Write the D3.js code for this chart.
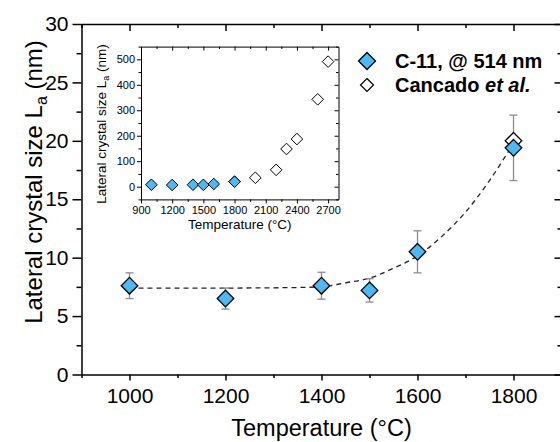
<!DOCTYPE html>
<html>
<head>
<meta charset="utf-8">
<script src="https://cdn.jsdelivr.net/npm/d3@7"></script>
<style>
  body { margin: 0; background: #fff; }
  svg { display: block; font-family: Arial, "Liberation Sans", sans-serif; }
</style>
</head>
<body>
<script>
// C-11 sample, measured at 514 nm
const tempC11 = [1000, 1200, 1400, 1500, 1600, 1800];
const laC11 = [7.6, 6.5, 7.6, 7.2, 10.5, 19.4];
const errC11 = [1.1, 0.9, 1.15, 1.0, 1.8, 2.8];

// Cancado et al. reference values
const tempCancado = [1800, 2000, 2200, 2300, 2400, 2600, 2700];
const laCancado = [20.0, 35, 66, 148, 187, 343, 491];

// dashed guide curve
const tempFit = [1000, 1100, 1200, 1300, 1400, 1450, 1500, 1550, 1600, 1650, 1700, 1750, 1800];
const laFit = [7.4, 7.4, 7.4, 7.42, 7.5, 7.85, 8.25, 9.1, 10.15, 11.8, 13.9, 16.6, 19.8];

const mainXTicks = [1000, 1200, 1400, 1600, 1800];
const mainXMinor = [900, 1100, 1300, 1500, 1700, 1900];
const mainYTicks = [0, 5, 10, 15, 20, 25, 30];
const mainYMinor = [2.5, 7.5, 12.5, 17.5, 22.5, 27.5];
const insetXTicks = [900, 1200, 1500, 1800, 2100, 2400, 2700];
const insetXMinor = [1050, 1350, 1650, 1950, 2250, 2550];
const insetYTicks = [0, 100, 200, 300, 400, 500];
const insetYMinor = [-50, 50, 150, 250, 350, 450, 550];

const W = 560, H = 442;
const blue = '#4cb8f4';

const svg = d3.select('body').append('svg')
    .attr('width', W)
    .attr('height', H);

// ---------- main plot ----------
const X = d3.scaleLinear().domain([900, 1900]).range([81.5, 561.5]);
const Y = d3.scaleLinear().domain([0, 30]).range([374.5, 24]);

function frame(g, x, y, o) {
    // bottom / left: outward ticks with labels
    g.append('g').attr('transform', `translate(0 ${y.range()[0]})`)
        .call(d3.axisBottom(x).tickValues(o.xt).tickSize(o.xMaj).tickPadding(o.xPad).tickSizeOuter(0).tickFormat(d3.format('d')))
        .call(s => s.select('.domain').attr('stroke-width', o.lw))
        .call(s => s.selectAll('.tick line').attr('stroke-width', o.lw))
        .call(s => s.selectAll('text').attr('font-size', o.fs).attr('fill', '#000'));
    g.append('g').attr('transform', `translate(0 ${y.range()[0]})`)
        .call(d3.axisBottom(x).tickValues(o.xm).tickSize(o.xMin).tickFormat('').tickSizeOuter(0))
        .call(s => s.select('.domain').remove())
        .call(s => s.selectAll('.tick line').attr('stroke-width', o.lw));
    g.append('g').attr('transform', `translate(${x.range()[0]} 0)`)
        .call(d3.axisLeft(y).tickValues(o.yt).tickSize(o.yMaj).tickPadding(o.yPad).tickSizeOuter(0))
        .call(s => s.select('.domain').attr('stroke-width', o.lw))
        .call(s => s.selectAll('.tick line').attr('stroke-width', o.lw))
        .call(s => s.selectAll('text').attr('font-size', o.fs).attr('fill', '#000'));
    g.append('g').attr('transform', `translate(${x.range()[0]} 0)`)
        .call(d3.axisLeft(y).tickValues(o.ym).tickSize(o.yMin).tickFormat('').tickSizeOuter(0))
        .call(s => s.select('.domain').remove())
        .call(s => s.selectAll('.tick line').attr('stroke-width', o.lw));
    // top / right: inward ticks, no labels
    g.append('g').attr('transform', `translate(0 ${y.range()[1]})`)
        .call(d3.axisTop(x).tickValues(o.xt).tickSize(-o.inMaj).tickFormat('').tickSizeOuter(0))
        .call(s => s.select('.domain').attr('stroke-width', o.lw))
        .call(s => s.selectAll('.tick line').attr('stroke-width', o.lw));
    g.append('g').attr('transform', `translate(0 ${y.range()[1]})`)
        .call(d3.axisTop(x).tickValues(o.xm).tickSize(-o.inMin).tickFormat('').tickSizeOuter(0))
        .call(s => s.select('.domain').remove())
        .call(s => s.selectAll('.tick line').attr('stroke-width', o.lw));
    g.append('g').attr('transform', `translate(${x.range()[1]} 0)`)
        .call(d3.axisRight(y).tickValues(o.yt).tickSize(-o.inMaj).tickFormat('').tickSizeOuter(0))
        .call(s => s.select('.domain').attr('stroke-width', o.lw))
        .call(s => s.selectAll('.tick line').attr('stroke-width', o.lw));
    g.append('g').attr('transform', `translate(${x.range()[1]} 0)`)
        .call(d3.axisRight(y).tickValues(o.ym).tickSize(-o.inMin).tickFormat('').tickSizeOuter(0))
        .call(s => s.select('.domain').remove())
        .call(s => s.selectAll('.tick line').attr('stroke-width', o.lw));
}

const main = svg.append('g');
frame(main, X, Y, {
    xt: mainXTicks, xm: mainXMinor, yt: mainYTicks, ym: mainYMinor,
    xMaj: 6, xMin: 3.5, yMaj: 9, yMin: 5, inMaj: 7, inMin: 4,
    xPad: 7.5, yPad: 4, fs: 21, lw: 1.5
});

main.append('text')
    .attr('x', (X.range()[0] + X.range()[1]) / 2)
    .attr('y', 436)
    .attr('text-anchor', 'middle')
    .attr('font-size', 23.5)
    .text('Temperature (°C)');

const yt = main.append('text')
    .attr('transform', 'translate(42 182) rotate(-90)')
    .attr('text-anchor', 'middle')
    .attr('font-size', 24);
yt.append('tspan').text('Lateral crystal size L');
yt.append('tspan').attr('font-size', 16).attr('dy', 5).text('a');
yt.append('tspan').attr('dy', -5).text(' (nm)');

const diamond = (r) => `M0 ${-r}L${r} 0L0 ${r}L${-r} 0Z`;

// dashed guide
main.append('path')
    .attr('d', d3.line().x(d => X(d[0])).y(d => Y(d[1])).curve(d3.curveMonotoneX)(d3.zip(tempFit, laFit)))
    .attr('fill', 'none')
    .attr('stroke', '#222')
    .attr('stroke-width', 1.3)
    .attr('stroke-dasharray', '5,4');

// error bars
const eb = main.append('g').attr('stroke', '#8c8c8c').attr('stroke-width', 1.3);
tempC11.forEach((t, i) => {
    const x = X(t), y1 = Y(laC11[i] + errC11[i]), y0 = Y(laC11[i] - errC11[i]);
    eb.append('line').attr('x1', x).attr('x2', x).attr('y1', y1).attr('y2', y0);
    eb.append('line').attr('x1', x - 4).attr('x2', x + 4).attr('y1', y1).attr('y2', y1);
    eb.append('line').attr('x1', x - 4).attr('x2', x + 4).attr('y1', y0).attr('y2', y0);
});

// Cancado in main range
main.selectAll('path.cmain')
    .data(d3.zip(tempCancado, laCancado).filter(d => d[0] <= 1900))
    .join('path')
    .attr('class', 'cmain')
    .attr('transform', d => `translate(${X(d[0])} ${Y(d[1])})`)
    .attr('d', diamond(8.3))
    .attr('fill', '#fff')
    .attr('stroke', '#000')
    .attr('stroke-width', 1.3);

main.selectAll('path.c11')
    .data(d3.zip(tempC11, laC11))
    .join('path')
    .attr('class', 'c11')
    .attr('transform', d => `translate(${X(d[0])} ${Y(d[1])})`)
    .attr('d', diamond(8.3))
    .attr('fill', blue)
    .attr('stroke', '#000')
    .attr('stroke-width', 1.3);

// legend
const leg = main.append('g');
leg.append('path').attr('transform', 'translate(367 61)').attr('d', diamond(8.5))
    .attr('fill', blue).attr('stroke', '#000').attr('stroke-width', 1.3);
leg.append('text').attr('x', 395).attr('y', 67.5).attr('font-size', 20).attr('font-weight', 'bold')
    .text('C-11, @ 514 nm');
leg.append('path').attr('transform', 'translate(367 85)').attr('d', diamond(6.5))
    .attr('fill', '#fff').attr('stroke', '#000').attr('stroke-width', 1.2);
const lt = leg.append('text').attr('x', 395).attr('y', 92).attr('font-size', 20).attr('font-weight', 'bold');
lt.append('tspan').text('Cancado ');
lt.append('tspan').attr('font-style', 'italic').text('et al.');

// ---------- inset ----------
const XI = d3.scaleLinear().domain([900, 2800]).range([141, 338.5]);
const YI = d3.scaleLinear().domain([-50, 550]).range([199.4, 46.6]);

const inset = svg.append('g');
frame(inset, XI, YI, {
    xt: insetXTicks, xm: insetXMinor, yt: insetYTicks, ym: insetYMinor,
    xMaj: 4, xMin: 2.5, yMaj: 4, yMin: 2.5, inMaj: 4, inMin: 2.5,
    xPad: 3, yPad: 2, fs: 11, lw: 1
});

inset.append('text')
    .attr('x', (XI.range()[0] + XI.range()[1]) / 2)
    .attr('y', 229)
    .attr('text-anchor', 'middle')
    .attr('font-size', 13.5)
    .text('Temperature (°C)');

const yti = inset.append('text')
    .attr('transform', 'translate(106 124) rotate(-90)')
    .attr('text-anchor', 'middle')
    .attr('font-size', 13.5);
yti.append('tspan').text('Lateral crystal size L');
yti.append('tspan').attr('font-size', 9).attr('dy', 3).text('a');
yti.append('tspan').attr('dy', -3).text(' (nm)');

inset.selectAll('path.ci')
    .data(d3.zip(tempCancado, laCancado))
    .join('path')
    .attr('class', 'ci')
    .attr('transform', d => `translate(${XI(d[0])} ${YI(d[1])})`)
    .attr('d', diamond(5.8))
    .attr('fill', '#fff')
    .attr('stroke', '#000')
    .attr('stroke-width', 1);

inset.selectAll('path.bi')
    .data(d3.zip(tempC11, laC11))
    .join('path')
    .attr('class', 'bi')
    .attr('transform', d => `translate(${XI(d[0])} ${YI(d[1])})`)
    .attr('d', diamond(5.8))
    .attr('fill', blue)
    .attr('stroke', '#000')
    .attr('stroke-width', 1);
</script>
</body>
</html>
